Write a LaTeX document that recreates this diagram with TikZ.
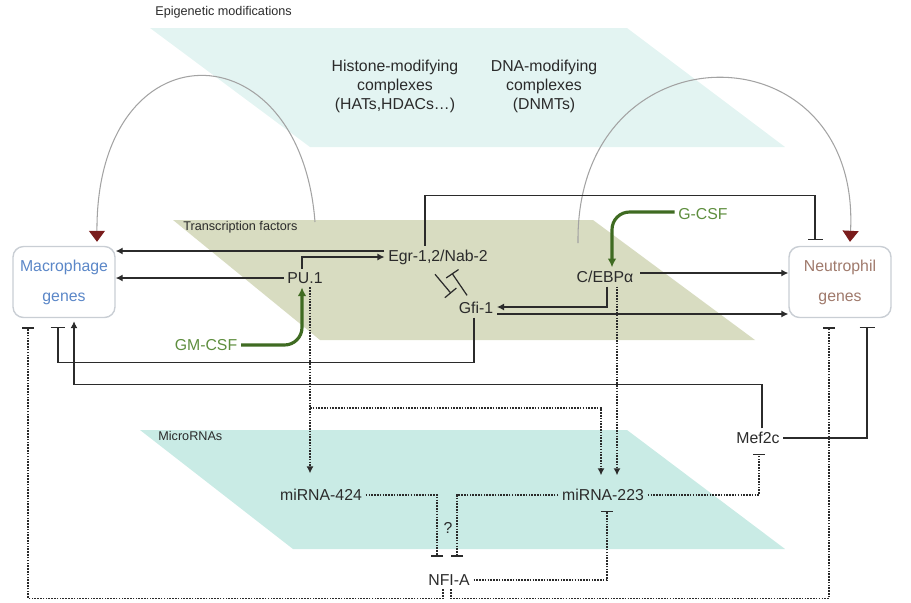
\documentclass[tikz,border=0pt]{standalone}
\usepackage{fontspec}
\setmainfont{Liberation Sans}
\usetikzlibrary{arrows.meta, calc}
\definecolor{ink}{HTML}{2B2B2B}
\definecolor{epicyan}{HTML}{E3F4F2}
\definecolor{tfolive}{HTML}{D8DCC1}
\definecolor{mircyan}{HTML}{C9EBE5}
\definecolor{cytogreen}{HTML}{3F6B22}
\definecolor{cytotext}{HTML}{5E8E3E}
\definecolor{macblue}{HTML}{5B87C8}
\definecolor{neubrown}{HTML}{A07A6C}
\definecolor{arcgrey}{HTML}{A3A3A3}
\definecolor{tipred}{HTML}{7A1C1C}
\definecolor{boxline}{HTML}{C9CED4}
\tikzset{
  genebox/.style={rectangle, rounded corners=6pt, draw=boxline, thick, fill=white,
    minimum width=2.04cm, minimum height=1.42cm, align=center, font=\fontsize{9}{17}\selectfont},
  factor/.style={font=\fontsize{9}{11}\selectfont, text=ink, inner sep=2pt},
  cytokine/.style={factor, text=cytotext},
  complexnote/.style={factor, align=center, font=\fontsize{9}{10.8}\selectfont},
  layerlabel/.style={font=\fontsize{7.2}{9}\selectfont, text=ink, anchor=west, inner sep=0pt},
  arrow/.style={-{Latex[length=4pt,width=4pt]}, line width=0.7pt, ink},
  arrowd/.style={arrow, dash pattern=on 0.9pt off 0.7pt, line width=0.8pt},
  inhib/.style={-{Bar[width=3mm]}, line width=0.7pt, ink},
  inhibd/.style={inhib, dash pattern=on 0.9pt off 0.7pt, line width=0.8pt, -{Bar[width=2.4mm]}},
  cytoarrow/.style={-{Latex[length=5pt,width=5pt]}, line width=1.8pt, cytogreen, rounded corners=10pt},
  epiarc/.style={-{Triangle[length=2.2mm,width=3.2mm,color=tipred]}, line width=0.6pt, arcgrey},
}

\begin{document}
\begin{tikzpicture}[x=0.02cm, y=-0.02cm]
\useasboundingbox (0,0) rectangle (911,602);
\fill[epicyan] (150,28) -- (627,28) -- (785,147) -- (310,147) -- cycle;
\fill[tfolive] (173,220) -- (593,220) -- (755,340) -- (320,340) -- cycle;
\fill[mircyan] (140,430) -- (627,430) -- (785,549) -- (293,549) -- cycle;

\node[layerlabel] (epilab) at (155,12) {Epigenetic modifications};
\node[layerlabel] (tflab) at (183,227) {Transcription factors};
\node[layerlabel] (mirlab) at (158,436) {MicroRNAs};
\node[complexnote] (histone) at (395,86) {Histone-modifying\\complexes\\(HATs,HDACs…)};
\node[complexnote] (dna) at (544,86) {DNA-modifying\\complexes\\(DNMTs)};

\node[genebox, text=macblue] (mac) at (64,282) {Macrophage\\genes};
\node[genebox, text=neubrown] (neu) at (840,282) {Neutrophil\\genes};
\node[factor] (pu1) at (305,278) {PU.1};
\node[factor] (egr) at (438,257) {Egr-1,2/Nab-2};
\node[factor] (gfi) at (476,308) {Gfi-1};
\node[factor] (cebp) at (605,277) {C/EBPα};
\node[cytokine] (gcsf) at (703,214) {G-CSF};
\node[cytokine] (gmcsf) at (206,345) {GM-CSF};
\node[factor] (mir424) at (321,495) {miRNA-424};
\node[factor] (mir223) at (603,495) {miRNA-223};
\node[factor] (mef) at (758,438) {Mef2c};
\node[factor] (nfia) at (449,580) {NFI-A};
\node[factor] (unknown) at (448,528) {?};

\coordinate (egrL) at ($(egr.west)+(0,-6)$);
\coordinate (cebpR) at ($(cebp.east)+(3,-4)$);
\coordinate (gfiR) at ($(gfi.east)+(0,6)$);
\coordinate (pubr) at (310,408);
\coordinate (epiL) at (315,222);
\coordinate (epiR) at (578,243);

\draw[epiarc] (epiL) .. controls (300,25) and (96,25) .. ($(mac.north)+(33,-4)$);
\draw[epiarc] (epiR) .. controls (575,24) and (861,24) .. ($(neu.north)+(10,-4)$);

\draw[arrow] (egrL) -- (egrL -| mac.east);
\draw[arrow] (pu1.west) -- (pu1.west -| mac.east);
\draw[arrow] ($(pu1.north)+(-3,0)$) |- (egr.west);
\draw[cytoarrow] (gmcsf.east) -| ($(pu1.south)+(-3,0)$);
\draw[cytoarrow] ($(gcsf.west)+(0,-2)$) -| ($(cebp.north)+(7,0)$);
\draw[inhib] ($(egr.north)+(-13,0)$) -- ++(0,-50) -| ($(neu.north)+(-25,-6)$);
\draw[inhib] ($(egr.south)+(-3,6)$) -- ($(gfi.north)+(-25,-5)$);
\draw[inhib] ($(gfi.north)+(-9,-3)$) -- ($(egr.south)+(14,5)$);
\draw[arrow] ($(cebp.south)+(2,0)$) |- ($(gfi.east)+(0,-1)$);
\draw[arrow] (gfiR) -- (gfiR -| neu.west);
\draw[arrow] (cebpR) -- (cebpR -| neu.west);
\draw[inhib] ($(gfi.south)+(-2,0)$) -- ($(gfi.south)+(-2,45)$) -| ($(mac.south)+(-6,9)$);
\draw[arrow] ($(mef.north)+(4,0)$) -- ++(0,-44) -| ($(mac.south)+(10,3)$);
\draw[inhib] (mef.east) -| ($(neu.south)+(27,9)$);

\draw[arrowd] ($(pu1.south)+(5,0)$) -- ($(mir424.north)+(-11,-12)$);
\draw[arrowd] (pubr) -| ($(mir223.north)+(-2,-10)$);
\draw[arrowd] ($(cebp.south)+(12,0)$) -- ($(mir223.north)+(14,-10)$);
\draw[inhibd] (mir424.east) -| ($(nfia.north)+(-12,-14)$);
\draw[inhibd] (mir223.west) -| ($(nfia.north)+(8,-14)$);
\draw[inhibd] (nfia.east) -| ($(mir223.south)+(4,6)$);
\draw[inhibd] (mir223.east) -| ($(mef.south)+(1,6)$);
\draw[inhibd] ($(nfia.south)+(-6,0)$) -- ++(0,9) -| ($(mac.south)+(-36,9)$);
\draw[inhibd] ($(nfia.south)+(2,0)$) -- ++(0,9) -| ($(neu.south)+(-11,9)$);
\end{tikzpicture}
\end{document}
